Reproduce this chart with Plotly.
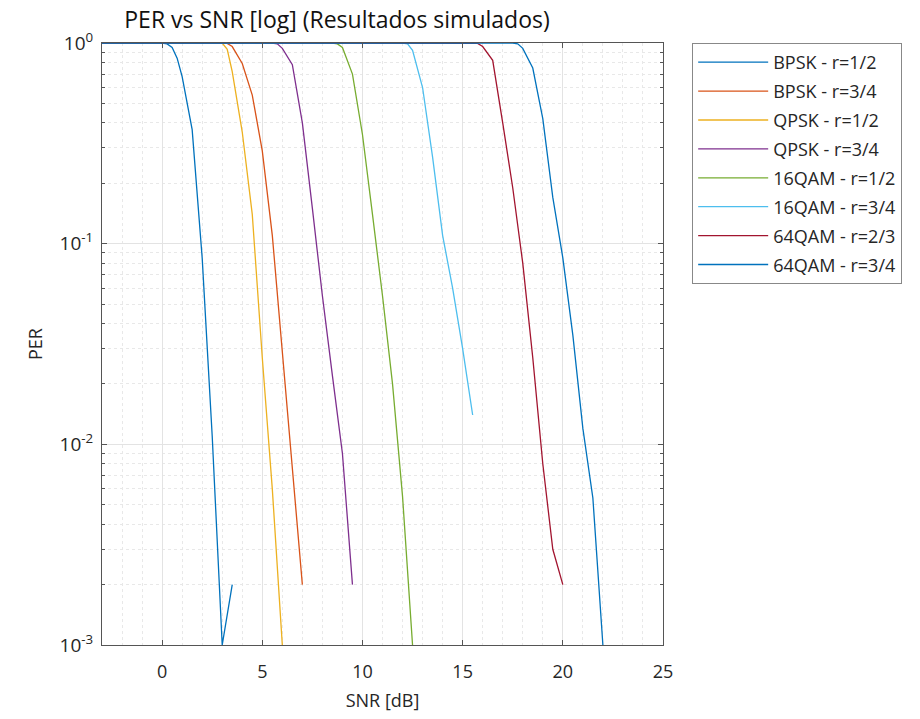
import plotly.graph_objects as go

# ---- data ----
labels = ["BPSK - r=1/2", "BPSK - r=3/4", "QPSK - r=1/2", "QPSK - r=3/4",
          "16QAM - r=1/2", "16QAM - r=3/4", "64QAM - r=2/3", "64QAM - r=3/4"]

snr_bpsk12 = [-3, 0, 0.25, 0.5, 0.75, 1.0, 1.5, 2.0, 2.5, 3.0, 3.5]
per_bpsk12 = [1, 1, 0.99, 0.95, 0.84, 0.68, 0.37, 0.085, 0.011, 0.001, 0.002]

snr_bpsk34 = [-3, 3.0, 3.25, 3.5, 4.0, 4.5, 5.0, 5.5, 6.0, 6.5, 7.0]
per_bpsk34 = [1, 1, 0.995, 0.96, 0.79, 0.55, 0.29, 0.11, 0.028, 0.0075, 0.002]

snr_qpsk12 = [-3, 3.0, 3.25, 3.5, 4.0, 4.5, 5.0, 5.5, 6.0]
per_qpsk12 = [1, 1, 0.93, 0.72, 0.36, 0.14, 0.027, 0.006, 0.001]

snr_qpsk34 = [-3, 5.5, 5.75, 6.0, 6.5, 7.0, 7.5, 8.0, 8.5, 9.0, 9.5]
per_qpsk34 = [1, 1, 0.99, 0.94, 0.78, 0.4, 0.15, 0.055, 0.022, 0.009, 0.002]

snr_16qam12 = [-3, 8.5, 8.75, 9.0, 9.5, 10.0, 10.5, 11.0, 11.5, 12.0, 12.5]
per_16qam12 = [1, 1, 0.99, 0.95, 0.7, 0.35, 0.14, 0.055, 0.02, 0.0055, 0.001]

snr_16qam34 = [-3, 12.0, 12.25, 12.5, 13.0, 13.5, 14.0, 14.5, 15.0, 15.5]
per_16qam34 = [1, 1, 0.99, 0.92, 0.6, 0.27, 0.11, 0.06, 0.03, 0.014]

snr_64qam23 = [-3, 15.5, 15.75, 16.0, 16.5, 17.0, 17.5, 18.0, 18.5, 19.0, 19.5, 20.0]
per_64qam23 = [1, 1, 0.995, 0.96, 0.82, 0.4, 0.19, 0.08, 0.027, 0.008, 0.003, 0.002]

snr_64qam34 = [-3, 17.5, 17.75, 18.0, 18.5, 19.0, 19.5, 20.0, 20.5, 21.0, 21.5, 22.0]
per_64qam34 = [1, 1, 0.99, 0.94, 0.75, 0.42, 0.17, 0.085, 0.035, 0.012, 0.0054, 0.001]

colors = ["#0072BD", "#D95319", "#EDB120", "#7E2F8E",
          "#77AC30", "#4DBEEE", "#A2142F", "#0072BD"]

series = [(snr_bpsk12, per_bpsk12), (snr_bpsk34, per_bpsk34),
          (snr_qpsk12, per_qpsk12), (snr_qpsk34, per_qpsk34),
          (snr_16qam12, per_16qam12), (snr_16qam34, per_16qam34),
          (snr_64qam23, per_64qam23), (snr_64qam34, per_64qam34)]

y_tickvals = [1, 0.1, 0.01, 0.001]
y_ticktext = ["10<sup>0</sup>", "10<sup>-1</sup>", "10<sup>-2</sup>", "10<sup>-3</sup>"]
x_tickvals = [0, 5, 10, 15, 20, 25]

FONT = "Open Sans"
TXT = "#262626"

fig = go.Figure()
for i, ((x, y), name, c) in enumerate(zip(series, labels, colors)):
    fig.add_trace(go.Scatter(x=x, y=y, mode="lines", name=name,
                             legendgroup=f"g{i}",
                             line=dict(color=c, width=1.3)))

axis_common = dict(showline=True, linecolor="#555555", linewidth=1,
                   mirror="allticks", ticks="inside", tickcolor="#555555",
                   ticklen=5, zeroline=False, gridcolor="#e3e3e3", gridwidth=1)

fig.update_xaxes(range=[-3, 25], tickvals=x_tickvals, ticklabelstandoff=10,
                 tickfont=dict(family=FONT, size=18, color=TXT),
                 title=dict(text="SNR [dB]", font=dict(family=FONT, size=18, color=TXT),
                            standoff=12),
                 minor=dict(dtick=1, showgrid=True, gridcolor="#e8e8e8",
                            griddash="dot", ticks=""),
                 **axis_common)
fig.update_yaxes(type="log", range=[-3, 0], tickvals=y_tickvals, ticktext=y_ticktext,
                 ticklabelstandoff=4,
                 tickfont=dict(family=FONT, size=19, color=TXT),
                 title=dict(text="PER", font=dict(family=FONT, size=18, color=TXT),
                            standoff=12),
                 minor=dict(tickvals=[k * 10 ** e for e in (-3, -2, -1) for k in range(2, 10)],
                            showgrid=True, gridcolor="#e8e8e8", griddash="dot",
                            ticks="inside", ticklen=3, tickcolor="#555555"),
                 **axis_common)

fig.update_layout(
    width=920, height=719, autosize=False,
    margin=dict(l=102, r=257, t=43, b=72),
    paper_bgcolor="white", plot_bgcolor="white",
    title=dict(text="PER vs SNR [log] (Resultados simulados)",
               font=dict(family=FONT, size=23, color="#111111"),
               x=337 / 920, xref="container", xanchor="center",
               y=1 - 20 / 719, yref="container", yanchor="middle"),
    legend=dict(x=1.052, xanchor="left", y=1.0, yanchor="top",
                bordercolor="#888888", borderwidth=1, bgcolor="white",
                font=dict(family=FONT, size=18, color=TXT),
                tracegroupgap=2.5, itemwidth=70),
    showlegend=True,
)

fig.write_html("out.html")
